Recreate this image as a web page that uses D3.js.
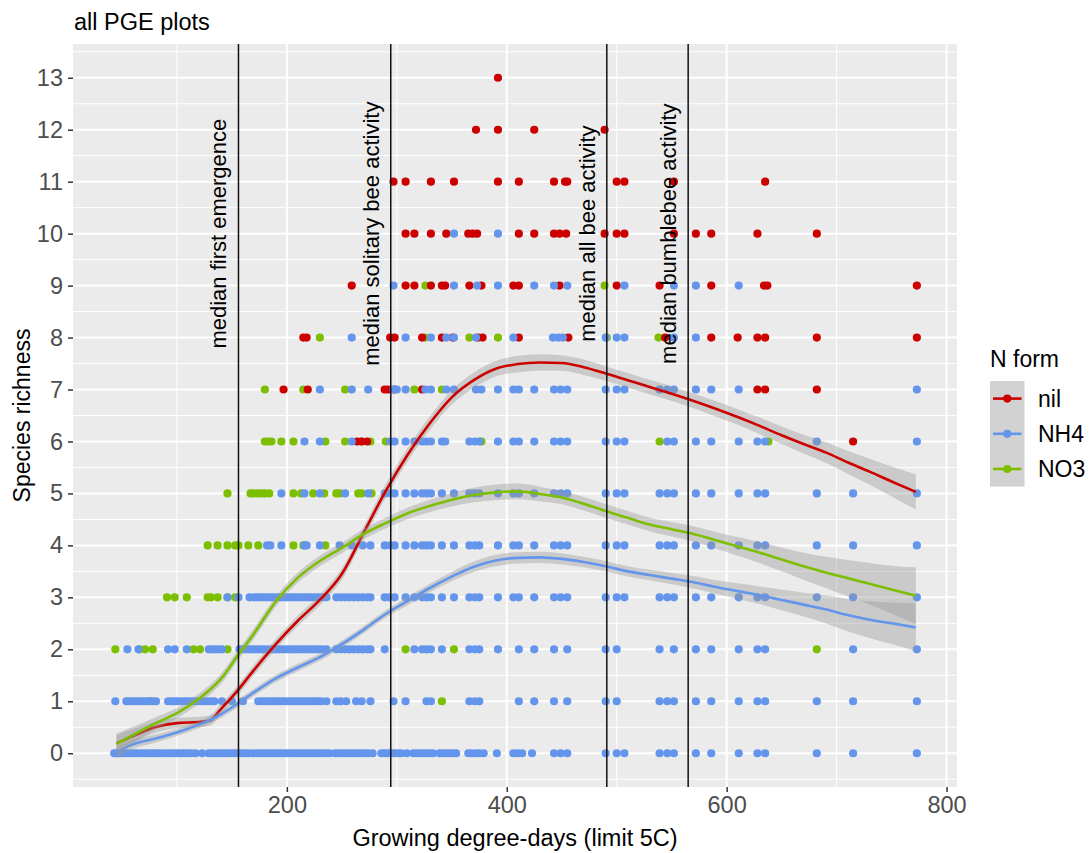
<!DOCTYPE html>
<html>
<head>
<meta charset="utf-8">
<script src="https://cdn.jsdelivr.net/npm/d3@7"></script>
<style>
  html, body { margin: 0; padding: 0; background: #ffffff; }
  svg { display: block; font-family: "Liberation Sans", Arial, sans-serif; }
</style>
</head>
<body>
<svg id="chart" width="1091" height="853"></svg>
<script>
// ---- data -------------------------------------------------------------
// Species richness observations, grouped by richness value: [richness, [GDD values]]
const nilRows = [
  [13, [392]],
  [12, [372, 392, 425, 489]],
  [11, [297, 308, 331, 352, 392, 411, 443, 453, 455, 500, 507, 552, 635]],
  [10, [308, 316, 331, 345, 365, 369, 373, 411, 425, 443, 448, 454, 489, 500, 507, 552, 572, 586, 628, 682]],
  [9, [259, 308, 316, 331, 341, 344, 366, 377, 406, 411, 448, 500, 539, 586, 634, 637, 773]],
  [8, [215, 218, 294, 298, 323, 341, 351, 374, 378, 411, 456, 544, 586, 610, 628, 635, 682, 773]],
  [7, [197, 219, 289, 292, 298, 323, 628, 635, 682]],
  [6, [264, 268, 273, 715]]
];

const no3Rows = [
  [9, [326, 489]],
  [8, [230, 326, 366, 392, 491, 538]],
  [7, [180, 215, 253, 316, 341, 539]],
  [6, [180, 183, 186, 195, 206, 235, 253, 268, 276, 290, 377, 539, 638]],
  [5, [146, 167, 170, 174, 177, 180, 184, 206, 213, 224, 234, 245, 248, 265, 268, 277]],
  [4, [128, 137, 146, 153, 156, 165, 174, 206, 215, 235]],
  [3, [91, 98, 109, 128, 131, 137, 146, 153]],
  [2, [44, 66, 71, 78, 115, 121, 146, 308, 352, 682]],
  [1, [75, 341]]
];

const nh4Rows = [
  [10, [352, 392]],
  [9, [297, 352, 373, 392, 425, 443, 455, 507, 552, 572, 611]],
  [8, [259, 308, 331, 345, 352, 372, 406, 442, 447, 451, 490, 500, 507, 552, 572]],
  [7, [230, 259, 274, 297, 300, 308, 326, 331, 345, 352, 372, 377, 392, 406, 411, 425, 443, 449, 455, 490, 500, 507, 539, 546, 552, 572, 586, 611, 773]],
  [6, [216, 230, 259, 294, 298, 308, 316, 323, 327, 331, 341, 344, 366, 371, 375, 392, 406, 411, 425, 443, 449, 455, 490, 500, 507, 546, 552, 572, 586, 611, 628, 635, 682, 773]],
  [5, [195, 216, 230, 253, 274, 289, 294, 298, 308, 316, 323, 327, 331, 341, 352, 366, 371, 375, 392, 406, 411, 425, 443, 449, 455, 490, 500, 507, 539, 546, 552, 572, 586, 611, 628, 635, 682, 715, 773]],
  [4, [182, 185, 195, 216, 218, 230, 248, 259, 269, 276, 289, 294, 298, 308, 316, 323, 327, 331, 341, 352, 366, 371, 375, 392, 406, 411, 425, 443, 449, 455, 490, 500, 507, 539, 546, 552, 572, 586, 611, 628, 635, 682, 715, 773]],
  [3, [146, 156, 166, 170, 173, 176, 179, 182, 185, 188, 191, 194, 197, 200, 203, 206, 209, 212, 215, 218, 221, 224, 227, 230, 233, 236, 245, 249, 253, 257, 261, 265, 269, 273, 276, 289, 293, 298, 308, 316, 323, 327, 331, 341, 352, 366, 371, 375, 392, 406, 411, 425, 443, 449, 455, 490, 500, 507, 539, 546, 552, 572, 586, 611, 628, 635, 682, 715, 773]],
  [2, [55, 65, 92, 98, 109, 129, 132, 135, 138, 141, 157, 160, 163, 166, 169, 172, 175, 178, 181, 184, 187, 190, 193, 196, 199, 202, 205, 208, 211, 214, 217, 220, 223, 226, 229, 232, 236, 245, 249, 253, 257, 261, 265, 269, 273, 276, 289, 316, 323, 327, 331, 341, 366, 371, 375, 392, 411, 425, 443, 455, 490, 500, 539, 552, 572, 586, 611, 628, 635, 715, 773]],
  [1, [44, 54, 57, 60, 63, 66, 69, 72, 75, 78, 81, 92, 95, 98, 101, 104, 107, 110, 113, 116, 119, 122, 125, 128, 131, 134, 141, 150, 160, 174, 177, 180, 183, 186, 189, 192, 195, 198, 201, 204, 207, 210, 213, 216, 219, 222, 225, 228, 231, 236, 245, 249, 254, 263, 268, 276, 297, 308, 327, 331, 366, 371, 375, 411, 425, 443, 455, 490, 500, 539, 546, 552, 572, 586, 611, 628, 635, 682, 715, 773]],
  [0, [43, 45, 48, 50, 53, 56, 59, 62, 65, 68, 71, 74, 77, 80, 83, 85, 89, 92, 95, 98, 101, 104, 107, 110, 113, 117, 123, 129, 132, 135, 138, 141, 144, 147, 150, 153, 156, 159, 162, 165, 169, 173, 176, 179, 182, 185, 188, 191, 194, 197, 200, 203, 206, 209, 212, 215, 218, 221, 224, 227, 230, 233, 236, 239, 244, 247, 250, 253, 256, 259, 262, 265, 268, 271, 274, 278, 286, 289, 292, 295, 298, 301, 304, 309, 315, 318, 321, 324, 327, 330, 333, 339, 342, 345, 348, 351, 354, 365, 368, 372, 375, 379, 391, 406, 410, 414, 423, 443, 449, 455, 490, 500, 507, 539, 546, 552, 572, 586, 611, 628, 635, 682, 715, 773]]
];

// Smoothed trend (loess fit) per N form, with confidence half-width
const fitGdd = [45, 60, 80, 100, 120, 130, 140, 155, 170, 190, 210, 230, 250, 270, 290, 310, 330, 350, 370, 390, 410, 430, 450, 470, 490, 510, 530, 550, 570, 590, 610, 630, 650, 670, 690, 710, 730, 750, 772];
const nilFit = [0.19, 0.33, 0.50, 0.58, 0.60, 0.63, 0.85, 1.20, 1.60, 2.10, 2.55, 2.95, 3.45, 4.25, 5.05, 5.75, 6.35, 6.85, 7.18, 7.40, 7.49, 7.52, 7.51, 7.43, 7.31, 7.18, 7.05, 6.92, 6.78, 6.63, 6.47, 6.30, 6.12, 5.95, 5.79, 5.60, 5.42, 5.23, 5.03];
const nilSe  = [0.16, 0.13, 0.11, 0.10, 0.10, 0.10, 0.10, 0.10, 0.10, 0.10, 0.10, 0.10, 0.11, 0.12, 0.13, 0.13, 0.13, 0.14, 0.15, 0.15, 0.16, 0.16, 0.15, 0.15, 0.14, 0.14, 0.14, 0.14, 0.14, 0.15, 0.15, 0.16, 0.17, 0.18, 0.20, 0.22, 0.25, 0.29, 0.34];
const no3Fit = [0.18, 0.35, 0.57, 0.77, 1.05, 1.22, 1.43, 1.87, 2.30, 2.92, 3.38, 3.70, 3.95, 4.22, 4.43, 4.62, 4.76, 4.88, 4.97, 5.02, 5.04, 4.99, 4.92, 4.80, 4.66, 4.53, 4.40, 4.31, 4.22, 4.10, 3.98, 3.86, 3.73, 3.60, 3.48, 3.37, 3.26, 3.15, 3.03];
const no3Se  = [0.20, 0.16, 0.12, 0.10, 0.10, 0.10, 0.10, 0.10, 0.10, 0.10, 0.10, 0.10, 0.10, 0.10, 0.10, 0.11, 0.12, 0.13, 0.14, 0.15, 0.15, 0.14, 0.13, 0.13, 0.13, 0.13, 0.13, 0.14, 0.15, 0.16, 0.18, 0.20, 0.23, 0.26, 0.30, 0.35, 0.40, 0.46, 0.55];
const nh4Fit = [0.02, 0.17, 0.28, 0.40, 0.55, 0.64, 0.75, 0.95, 1.17, 1.44, 1.65, 1.85, 2.10, 2.38, 2.68, 2.93, 3.18, 3.40, 3.59, 3.71, 3.76, 3.77, 3.74, 3.68, 3.60, 3.50, 3.43, 3.36, 3.29, 3.20, 3.12, 3.04, 2.95, 2.86, 2.77, 2.66, 2.57, 2.50, 2.42];
const nh4Se  = [0.12, 0.09, 0.08, 0.07, 0.07, 0.07, 0.07, 0.07, 0.07, 0.07, 0.07, 0.07, 0.07, 0.07, 0.07, 0.08, 0.08, 0.09, 0.10, 0.11, 0.11, 0.11, 0.11, 0.10, 0.10, 0.10, 0.10, 0.11, 0.12, 0.13, 0.15, 0.17, 0.20, 0.23, 0.27, 0.31, 0.35, 0.40, 0.46];

// Phenology reference lines
const markerGdd = [156, 294.5, 491, 565];
const markerLabels = ["median first emergence", "median solitary bee activity", "median all bee activity", "median bumblebee activity"];

const xTicks = [200, 400, 600, 800];
const yTicks = [0, 1, 2, 3, 4, 5, 6, 7, 8, 9, 10, 11, 12, 13];
const groups = ["nil", "NH4", "NO3"];
const groupColors = { nil: "#cd0000", NH4: "#6495ed", NO3: "#7cbf00" };

// ---- layout -----------------------------------------------------------
const svg = d3.select("#chart");
const panel = { left: 73, right: 957, top: 44, bottom: 787 };
const x = d3.scaleLinear().domain([5.5, 809.5]).range([panel.left, panel.right]);
const y = d3.scaleLinear().domain([-0.65, 13.65]).range([panel.bottom, panel.top]);
const fontFamily = "Liberation Sans, Arial, sans-serif";
const ptR = 4.1;

// panel background
svg.append("rect")
  .attr("x", panel.left).attr("y", panel.top)
  .attr("width", panel.right - panel.left).attr("height", panel.bottom - panel.top)
  .attr("fill", "#ebebeb");

const grid = svg.append("g");
// minor grid
[100, 300, 500, 700].forEach(v => {
  grid.append("line").attr("x1", x(v)).attr("x2", x(v)).attr("y1", panel.top).attr("y2", panel.bottom)
    .attr("stroke", "#fff").attr("stroke-width", 1);
});
[-0.5, 0.5, 1.5, 2.5, 3.5, 4.5, 5.5, 6.5, 7.5, 8.5, 9.5, 10.5, 11.5, 12.5, 13.5].forEach(v => {
  grid.append("line").attr("y1", y(v)).attr("y2", y(v)).attr("x1", panel.left).attr("x2", panel.right)
    .attr("stroke", "#fff").attr("stroke-width", 1);
});
// major grid
xTicks.forEach(v => {
  grid.append("line").attr("x1", x(v)).attr("x2", x(v)).attr("y1", panel.top).attr("y2", panel.bottom)
    .attr("stroke", "#fff").attr("stroke-width", 2);
});
yTicks.forEach(v => {
  grid.append("line").attr("y1", y(v)).attr("y2", y(v)).attr("x1", panel.left).attr("x2", panel.right)
    .attr("stroke", "#fff").attr("stroke-width", 2);
});

// ---- points -----------------------------------------------------------
function flatten(rows, group) {
  const out = [];
  rows.forEach(([rich, gdds]) => gdds.forEach(g => out.push({ gdd: g, rich, group })));
  return out;
}
const pointLayers = [["NO3", no3Rows], ["nil", nilRows], ["NH4", nh4Rows]];
const pts = svg.append("g");
pointLayers.forEach(([grp, rows]) => {
  pts.selectAll(null).data(flatten(rows, grp)).enter().append("circle")
    .attr("cx", d => x(d.gdd)).attr("cy", d => y(d.rich)).attr("r", ptR)
    .attr("fill", groupColors[grp]);
});

// ---- smoothers --------------------------------------------------------
const fits = [["nil", nilFit, nilSe], ["NH4", nh4Fit, nh4Se], ["NO3", no3Fit, no3Se]];
const smooth = svg.append("g");
fits.forEach(([grp, fit, se]) => {
  const rows = fitGdd.map((g, i) => ({ g, m: fit[i], s: se[i] }));
  const area = d3.area().curve(d3.curveMonotoneX)
    .x(d => x(d.g)).y0(d => y(d.m - d.s)).y1(d => y(d.m + d.s));
  const line = d3.line().curve(d3.curveMonotoneX).x(d => x(d.g)).y(d => y(d.m));
  smooth.append("path").attr("d", area(rows)).attr("fill", "#999999").attr("fill-opacity", 0.4);
  smooth.append("path").attr("d", line(rows)).attr("fill", "none")
    .attr("stroke", groupColors[grp]).attr("stroke-width", 2.6);
});

// ---- reference lines & labels ------------------------------------------
const refs = svg.append("g");
markerGdd.forEach(g => {
  refs.append("line").attr("x1", x(g)).attr("x2", x(g)).attr("y1", panel.top).attr("y2", panel.bottom)
    .attr("stroke", "#111").attr("stroke-width", 1.5);
});
markerGdd.forEach((g, i) => {
  const tx = x(g - 18), ty = y(10);
  refs.append("text").attr("transform", `translate(${tx},${ty}) rotate(-90)`)
    .attr("text-anchor", "middle").attr("dy", "0.35em")
    .attr("font-size", 22).attr("fill", "#000").text(markerLabels[i]);
});

// ---- axes -------------------------------------------------------------
const xAxis = svg.append("g").attr("transform", `translate(0,${panel.bottom})`)
  .call(d3.axisBottom(x).tickValues(xTicks).tickSize(5).tickPadding(4).tickFormat(d3.format("d")));
xAxis.select(".domain").remove();
xAxis.selectAll("line").attr("stroke", "#333").attr("stroke-width", 1.5);
xAxis.selectAll("text").attr("fill", "#4d4d4d").attr("font-size", 23.5).attr("font-family", fontFamily);

const yAxis = svg.append("g").attr("transform", `translate(${panel.left},0)`)
  .call(d3.axisLeft(y).tickValues(yTicks).tickSize(5).tickPadding(5).tickFormat(d3.format("d")));
yAxis.select(".domain").remove();
yAxis.selectAll("line").attr("stroke", "#333").attr("stroke-width", 1.5);
yAxis.selectAll("text").attr("fill", "#4d4d4d").attr("font-size", 23.5).attr("font-family", fontFamily);

// axis titles and plot title
svg.append("text").attr("x", (panel.left + panel.right) / 2).attr("y", 846)
  .attr("text-anchor", "middle").attr("font-size", 23.5).attr("fill", "#000")
  .text("Growing degree-days (limit 5C)");
svg.append("text").attr("transform", `translate(30,${(panel.top + panel.bottom) / 2}) rotate(-90)`)
  .attr("text-anchor", "middle").attr("font-size", 23).attr("fill", "#000")
  .text("Species richness");
svg.append("text").attr("x", 74).attr("y", 30).attr("font-size", 23.5).attr("fill", "#000")
  .text("all PGE plots");

// ---- legend -----------------------------------------------------------
const legend = svg.append("g");
legend.append("text").attr("x", 990).attr("y", 367).attr("font-size", 23).attr("fill", "#000").text("N form");
const keyTop = 381, keyH = 35.2, keyL = 990, keyW = 34.5;
legend.append("rect").attr("x", keyL).attr("y", keyTop).attr("width", keyW).attr("height", keyH * groups.length)
  .attr("fill", "#d2d2d2");
groups.forEach((grp, i) => {
  const cy = keyTop + keyH * (i + 0.5);
  legend.append("line").attr("x1", keyL + 3).attr("x2", keyL + keyW - 3).attr("y1", cy).attr("y2", cy)
    .attr("stroke", groupColors[grp]).attr("stroke-width", 2.6);
  legend.append("circle").attr("cx", keyL + keyW / 2).attr("cy", cy).attr("r", ptR).attr("fill", groupColors[grp]);
  legend.append("text").attr("x", 1038).attr("y", cy + 8).attr("font-size", 23).attr("fill", "#000").text(grp);
});
</script>
</body>
</html>
